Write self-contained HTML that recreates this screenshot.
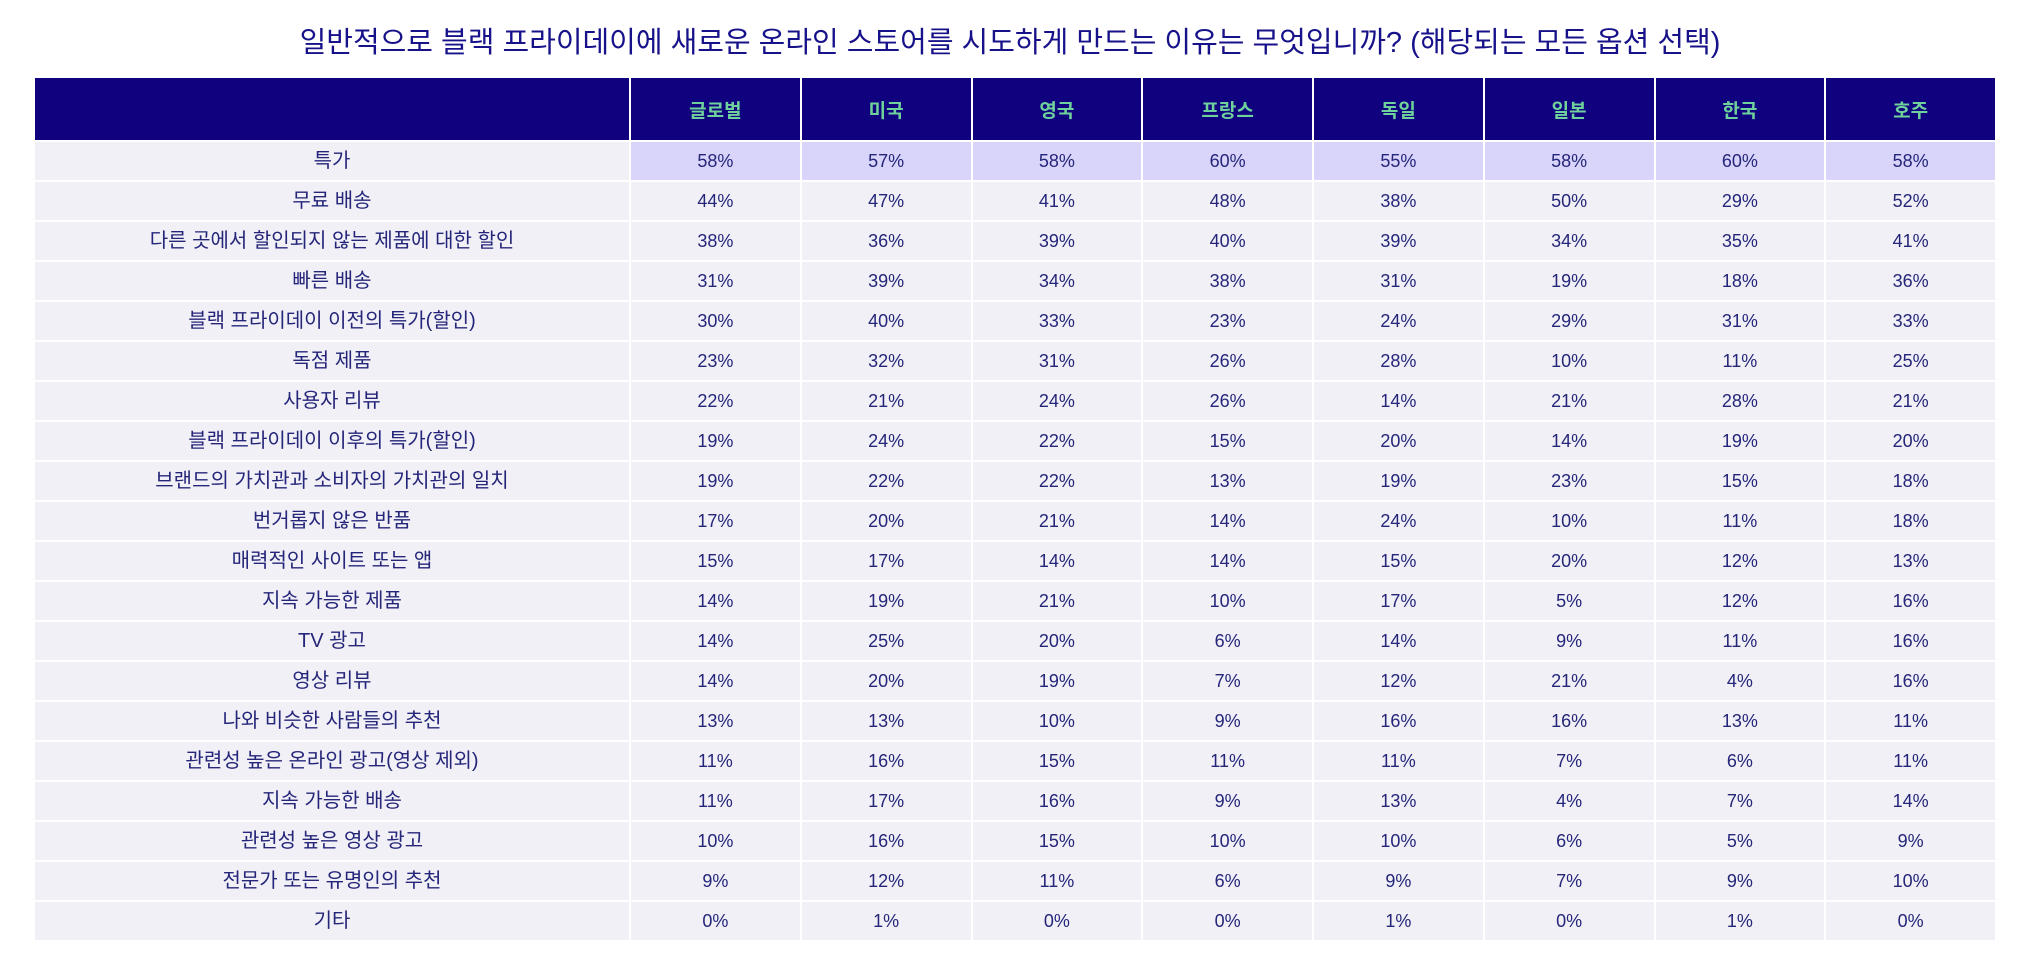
<!DOCTYPE html>
<html><head><meta charset="utf-8"><style>
html,body{margin:0;padding:0;background:#fff;width:2020px;height:960px;overflow:hidden;}
body{font-family:"Liberation Sans","Noto Sans CJK KR",sans-serif;color:#23237a;}
h1{position:absolute;left:0;top:23px;width:2020px;margin:0;text-align:center;font-weight:normal;font-size:29px;color:#17128a;line-height:40px;}
table{position:absolute;left:33px;top:76px;border-collapse:separate;border-spacing:2px;table-layout:fixed;width:1964px;}
th{background:#10027f;color:#6fd19b;font-weight:bold;font-size:19px;height:62px;padding:0;box-sizing:border-box;}
td{background:#f0f0f6;font-size:18px;height:38px;line-height:20px;padding:0;text-align:center;color:#25257a;vertical-align:middle;box-sizing:border-box;}
td.l{font-size:20px;}
tr.hl td.v{background:#d8d4fa;}
col.c0{width:594px;}
</style></head><body>
<h1>일반적으로 블랙 프라이데이에 새로운 온라인 스토어를 시도하게 만드는 이유는 무엇입니까? (해당되는 모든 옵션 선택)</h1>
<table>
<colgroup><col class="c0"><col><col><col><col><col><col><col><col></colgroup>
<tr><th></th><th>글로벌</th><th>미국</th><th>영국</th><th>프랑스</th><th>독일</th><th>일본</th><th>한국</th><th>호주</th></tr>
<tr class="hl"><td class="l">특가</td><td class="v">58%</td><td class="v">57%</td><td class="v">58%</td><td class="v">60%</td><td class="v">55%</td><td class="v">58%</td><td class="v">60%</td><td class="v">58%</td></tr>
<tr><td class="l">무료 배송</td><td>44%</td><td>47%</td><td>41%</td><td>48%</td><td>38%</td><td>50%</td><td>29%</td><td>52%</td></tr>
<tr><td class="l">다른 곳에서 할인되지 않는 제품에 대한 할인</td><td>38%</td><td>36%</td><td>39%</td><td>40%</td><td>39%</td><td>34%</td><td>35%</td><td>41%</td></tr>
<tr><td class="l">빠른 배송</td><td>31%</td><td>39%</td><td>34%</td><td>38%</td><td>31%</td><td>19%</td><td>18%</td><td>36%</td></tr>
<tr><td class="l">블랙 프라이데이 이전의 특가(할인)</td><td>30%</td><td>40%</td><td>33%</td><td>23%</td><td>24%</td><td>29%</td><td>31%</td><td>33%</td></tr>
<tr><td class="l">독점 제품</td><td>23%</td><td>32%</td><td>31%</td><td>26%</td><td>28%</td><td>10%</td><td>11%</td><td>25%</td></tr>
<tr><td class="l">사용자 리뷰</td><td>22%</td><td>21%</td><td>24%</td><td>26%</td><td>14%</td><td>21%</td><td>28%</td><td>21%</td></tr>
<tr><td class="l">블랙 프라이데이 이후의 특가(할인)</td><td>19%</td><td>24%</td><td>22%</td><td>15%</td><td>20%</td><td>14%</td><td>19%</td><td>20%</td></tr>
<tr><td class="l">브랜드의 가치관과 소비자의 가치관의 일치</td><td>19%</td><td>22%</td><td>22%</td><td>13%</td><td>19%</td><td>23%</td><td>15%</td><td>18%</td></tr>
<tr><td class="l">번거롭지 않은 반품</td><td>17%</td><td>20%</td><td>21%</td><td>14%</td><td>24%</td><td>10%</td><td>11%</td><td>18%</td></tr>
<tr><td class="l">매력적인 사이트 또는 앱</td><td>15%</td><td>17%</td><td>14%</td><td>14%</td><td>15%</td><td>20%</td><td>12%</td><td>13%</td></tr>
<tr><td class="l">지속 가능한 제품</td><td>14%</td><td>19%</td><td>21%</td><td>10%</td><td>17%</td><td>5%</td><td>12%</td><td>16%</td></tr>
<tr><td class="l">TV 광고</td><td>14%</td><td>25%</td><td>20%</td><td>6%</td><td>14%</td><td>9%</td><td>11%</td><td>16%</td></tr>
<tr><td class="l">영상 리뷰</td><td>14%</td><td>20%</td><td>19%</td><td>7%</td><td>12%</td><td>21%</td><td>4%</td><td>16%</td></tr>
<tr><td class="l">나와 비슷한 사람들의 추천</td><td>13%</td><td>13%</td><td>10%</td><td>9%</td><td>16%</td><td>16%</td><td>13%</td><td>11%</td></tr>
<tr><td class="l">관련성 높은 온라인 광고(영상 제외)</td><td>11%</td><td>16%</td><td>15%</td><td>11%</td><td>11%</td><td>7%</td><td>6%</td><td>11%</td></tr>
<tr><td class="l">지속 가능한 배송</td><td>11%</td><td>17%</td><td>16%</td><td>9%</td><td>13%</td><td>4%</td><td>7%</td><td>14%</td></tr>
<tr><td class="l">관련성 높은 영상 광고</td><td>10%</td><td>16%</td><td>15%</td><td>10%</td><td>10%</td><td>6%</td><td>5%</td><td>9%</td></tr>
<tr><td class="l">전문가 또는 유명인의 추천</td><td>9%</td><td>12%</td><td>11%</td><td>6%</td><td>9%</td><td>7%</td><td>9%</td><td>10%</td></tr>
<tr><td class="l">기타</td><td>0%</td><td>1%</td><td>0%</td><td>0%</td><td>1%</td><td>0%</td><td>1%</td><td>0%</td></tr>
</table>
</body></html>
